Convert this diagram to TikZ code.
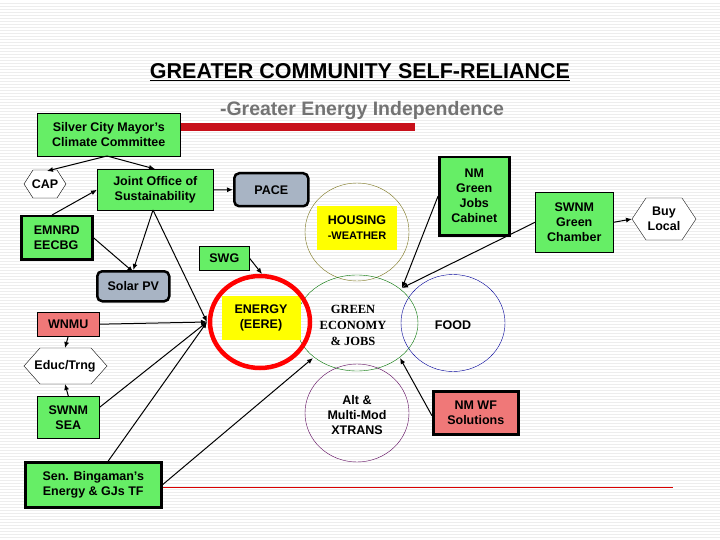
\documentclass[tikz,border=0pt]{standalone}
\usepackage{fontspec}
\setmainfont{Liberation Sans}
\newfontfamily\seriffont{Liberation Serif}
\usetikzlibrary{shapes.geometric,arrows.meta}
\definecolor{gbox}{HTML}{66EE66}
\definecolor{pbox}{HTML}{F07878}
\definecolor{gray1}{HTML}{A8B4C4}
\definecolor{ybox}{HTML}{FFFF00}
\definecolor{redbar}{HTML}{C8101A}
\begin{document}
\begin{tikzpicture}[x=1pt,y=-1pt,
 lab/.style={font=\bfseries\fontsize{12.5}{15}\selectfont,align=center,inner sep=0},
 gb/.style={lab,draw,fill=gbox,line width=0.6pt},
 gbt/.style={lab,draw,fill=gbox,line width=2.5pt},
 pb/.style={lab,draw,fill=pbox},
 rb/.style={lab,draw,fill=gray1,rounded corners=5pt,line width=2.5pt},
 circ/.style={draw,ellipse,inner sep=0},
 ar/.style={-{Latex[length=6pt,width=5pt]},line width=1pt}]
\useasboundingbox (0,0) rectangle (720,540);
\fill[white] (0,0) rectangle (720,540);
\foreach \y in {3,6,...,540} \draw[black!7,line width=0.4pt] (0,\y)--(720,\y);
\node[font=\bfseries\fontsize{21.5}{24}\selectfont] (title) at (360,72) {\underline{GREATER COMMUNITY SELF-RELIANCE}};
\fill[redbar] (180,123) rectangle (415,131);
\node[font=\bfseries\fontsize{19.5}{22}\selectfont,text=black!55] (sub) at (362,111) {-Greater Energy Independence};
\draw[red!85!black,line width=0.8pt] (25,487)--(673,487);
% boxes
\node[gb,minimum width=143,minimum height=43,anchor=north west] (sc) at (37,113) {Silver City Mayor's\\Climate Committee};
\draw[fill=white] (24,184)--(33,170)--(57,170)--(66,184)--(57,198)--(33,198)--cycle;
\node[lab] (cap) at (45,184) {CAP};
\node[gb,minimum width=116,minimum height=41,anchor=north west] (jo) at (97,169) {Joint Office of\\Sustainability};
\node[rb,minimum width=74,minimum height=33,anchor=north west] (pace) at (233,172) {PACE};
\node[gbt,minimum width=71,minimum height=43,anchor=north west,align=left] (em) at (20,215) {EMNRD\\EECBG};
\node[gb,minimum width=50,minimum height=24,anchor=north west] (swg) at (199,246) {SWG};
\node[rb,minimum width=72,minimum height=30,anchor=north west] (spv) at (96,270) {Solar PV};
\node[pb,minimum width=62,minimum height=24,anchor=north west] (wn) at (37,312) {WNMU};
\node[gb,minimum width=62,minimum height=42,anchor=north west] (sea) at (37,396) {SWNM\\SEA};
\node[gbt,minimum width=136,minimum height=45,anchor=north west] (sen) at (24,461) {Sen. Bingaman's\\Energy \& GJs TF};
\node[gbt,minimum width=70,minimum height=78,anchor=north west] (nmj) at (438,156) {NM\\Green\\Jobs\\Cabinet};
\node[gb,minimum width=78,minimum height=60,anchor=north west] (swc) at (535,192) {SWNM\\Green\\Chamber};
\node[pb,line width=2.5pt,minimum width=85,minimum height=43,anchor=north west] (wf) at (432,390) {NM WF\\Solutions};
% hexagons
\draw[fill=white] (632,219)--(646,198)--(682,198)--(696,219)--(682,240)--(646,240)--cycle;
\node[lab] (buy) at (664,219) {Buy\\Local};
\draw[fill=white] (24,366)--(40,348)--(91,348)--(107,366)--(91,384)--(40,384)--cycle;
\node[lab] (edu) at (65,366) {Educ/Trng};
% circles
\node[circ,draw=olive!80!black,minimum width=104,minimum height=98] (hou) at (357,232) {};
\node[lab,fill=ybox,minimum width=80,minimum height=44] (houl) at (357,228) {HOUSING\\{\fontsize{11}{13}\selectfont -WEATHER}};
\node[circ,draw=green!45!black,minimum width=122,minimum height=96] (ge) at (357,323) {};
\node[font=\seriffont\bfseries\fontsize{12.5}{16}\selectfont,align=center] (gel) at (353,325) {GREEN\\ECONOMY\\\& JOBS};
\node[circ,draw=blue!60!black,minimum width=104,minimum height=97] (food) at (453,323) {};
\node[lab] (foodl) at (453,325) {FOOD};
\node[circ,draw=violet!70!black,minimum width=104,minimum height=98] (alt) at (357,413) {};
\node[lab] (altl) at (357,415) {Alt \&\\Multi-Mod\\XTRANS};
\node[lab,fill=ybox,minimum width=79,minimum height=44] (enl) at (261,318) {ENERGY\\(EERE)};
\node[circ,draw=red,line width=4.5pt,minimum width=100,minimum height=92] (en) at (260,322) {};
% arrows
\coordinate (s1) at (107,156);
\draw[ar] (s1) -- (47,171);
\draw[ar] (s1) -- (155,169);
\draw[ar] (52,215) -- (jo.west);
\draw[ar] (jo.east) -- (pace.west);
\coordinate (j1) at (153,210);
\draw[ar] (j1) -- (spv.north);
\draw[ar] (em.east) -- ([yshift=-2]spv.north);
\coordinate (ep) at (207,322);
\draw[ar] (j1) -- (ep);
\draw[ar] (wn.east) -- (ep);
\draw[ar] ([yshift=10]sea.east) -- (ep);
\draw[ar] ([xshift=15]sen.north) -- (ep);
\draw[ar] (sen.east) -- (313,358);
\draw[ar] (swg.east) -- (262,274);
\draw[ar] (wn.south) -- (65,348);
\draw[ar] (sea.north) -- (65,384);
\draw[ar] (nmj.west) -- (402,288);
\draw[ar] (swc.west) -- (402,288);
\draw[ar] ([yshift=-3]wf.west) -- (400,358);
\draw[ar] (swc.east) -- (632,219);
\end{tikzpicture}
\end{document}
